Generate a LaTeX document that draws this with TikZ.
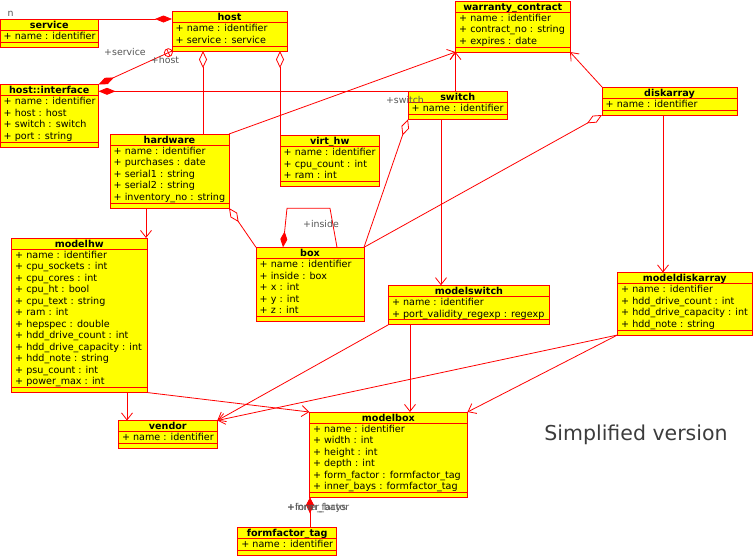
\documentclass[tikz,border=0pt]{standalone}
\usepackage{fontspec}
\setmainfont{DejaVu Sans}
\usetikzlibrary{arrows.meta,calc}
\definecolor{umlred}{RGB}{255,0,0}
\definecolor{umlyellow}{RGB}{255,255,0}
\definecolor{lblgray}{RGB}{85,85,85}
\definecolor{capgray}{RGB}{60,60,60}
\tikzset{
  classbox/.style={draw=umlred, fill=umlyellow, line width=0.95pt, inner sep=0pt, outer sep=0pt, rectangle},
  classline/.style={draw=umlred, line width=0.9pt},
  classtitle/.style={font=\bfseries\fontsize{9.6}{11}\selectfont, anchor=base, inner sep=0pt},
  classattr/.style={font=\fontsize{9.6}{11}\selectfont, anchor=base west, inner sep=0pt},
  conn/.style={draw=umlred, line width=0.8pt},
  openarrow/.style={-{Straight Barb[length=7pt,width=11pt]}},
  compstart/.style={{Diamond[length=17pt,width=7pt]}-},
  compend/.style={-{Diamond[length=17pt,width=7pt]}},
  aggstart/.style={{Diamond[open,length=17pt,width=8pt]}-},
  lbl/.style={text=lblgray, font=\fontsize{9.4}{11}\selectfont, inner sep=0pt},
}
\newcommand\umlclass[7]{%
  \node[classbox, anchor=north west, minimum width={(#4-#2)*1pt}, minimum height={(16.5+11.5*#6)*1pt}] (#1) at (#2,#3) {};
  \node[classtitle] (#1-title) at ({(#2+#4)/2},{#3+9.3}) {#5};
  \draw[classline] (#2,{#3+11}) -- (#4,{#3+11});
  \draw[classline] (#2,{#3+11.5+11.5*#6}) -- (#4,{#3+11.5+11.5*#6});
  \foreach \t [count=\i] in {#7} {\node[classattr] (#1-a\i) at ({#2+3.5},{#3+8.9+11.5*\i}) {\t};}
}
\begin{document}
\begin{tikzpicture}[x=1pt,y=-1pt]
\useasboundingbox (0,0) rectangle (753,555);

\umlclass{service}{0}{19}{98.5}{service}{1}{+ name : identifier}
\umlclass{host}{172}{11.5}{287}{host}{2}{+ name : identifier,+ service : service}
\umlclass{hostif}{0}{84.5}{98.5}{host::interface}{4}{+ name : identifier,+ host : host,+ switch : switch,+ port : string}
\umlclass{hardware}{110}{134}{229}{hardware}{5}{+ name : identifier,+ purchases : date,+ serial1 : string,+ serial2 : string,+ inventory\_no : string}
\umlclass{virthw}{280}{135.5}{379.5}{virt\_hw}{3}{+ name : identifier,+ cpu\_count : int,+ ram : int}
\umlclass{warranty}{455.5}{1}{570}{warranty\_contract}{3}{+ name : identifier,+ contract\_no : string,+ expires : date}
\umlclass{switch}{408}{91.3}{507.5}{switch}{1}{+ name : identifier}
\umlclass{diskarray}{602}{87}{737}{diskarray}{1}{+ name : identifier}
\umlclass{modelhw}{11.5}{238}{147}{modelhw}{12}{+ name : identifier,+ cpu\_sockets : int,+ cpu\_cores : int,+ cpu\_ht : bool,+ cpu\_text : string,+ ram : int,+ hepspec : double,+ hdd\_drive\_count : int,+ hdd\_drive\_capacity : int,+ hdd\_note : string,+ psu\_count : int,+ power\_max : int}
\umlclass{box}{256}{247.3}{364}{box}{5}{+ name : identifier,+ inside : box,+ x : int,+ y : int,+ z : int}
\umlclass{modelswitch}{388.3}{285.3}{549.5}{modelswitch}{2}{+ name : identifier,+ port\_validity\_regexp : regexp}
\umlclass{modeldiskarray}{617.5}{272.5}{752}{modeldiskarray}{4}{+ name : identifier,+ hdd\_drive\_count : int,+ hdd\_drive\_capacity : int,+ hdd\_note : string}
\umlclass{vendor}{118.3}{420.5}{217.3}{vendor}{1}{+ name : identifier}
\umlclass{modelbox}{309.3}{412}{467.5}{modelbox}{6}{+ name : identifier,+ width : int,+ height : int,+ depth : int,+ form\_factor : formfactor\_tag,+ inner\_bays : formfactor\_tag}
\umlclass{formfactor}{237.7}{527}{336.7}{formfactor\_tag}{1}{+ name : identifier}

% service -- host
\draw[conn,compend] (service.north west) -- (service.north west -| host.west);
\node[lbl] (lbl-n) at (10.5,14) {n};

% host::interface -- host
\draw[conn,compstart] (hostif.north east) -- (host.south west);
\coordinate (hc) at ($(host.south west)!4pt!(hostif.north east)$);
\draw[conn] (hc) circle[radius=4pt];
\draw[conn] ($(hc)!4pt!90:(host.south west)$) -- ($(hc)!4pt!-90:(host.south west)$);
\node[lbl] (lbl-service) at (125,52) {+service};
\node[lbl] (lbl-host) at (165,60) {+host};

% host::interface -- switch
\coordinate (hs) at ([yshift=-6.8pt]hostif.north east);
\draw[conn,compstart] (hs) -- (hs -| switch.north west);
\node[lbl] (lbl-switch) at (405,100) {+switch};

% host -- hardware, host -- virt_hw
\coordinate (hh) at ([xshift=31pt]host.south west);
\draw[conn,aggstart] (hh) -- (hh |- hardware.north);
\coordinate (hv) at ([xshift=108pt]host.south west);
\draw[conn,aggstart] (hv) -- (hv |- virthw.north);

% to warranty_contract
\draw[conn,openarrow] (hardware.north east) -- (warranty.south west);
\coordinate (sw) at ([xshift=47.5pt]switch.north west);
\draw[conn,openarrow] (sw) -- (sw |- warranty.south);
\draw[conn,openarrow] (diskarray.north west) -- (warranty.south east);

% aggregations to box
\draw[conn,aggstart] (diskarray.south west) -- (box.north east);
\draw[conn,aggstart] (switch.south west) -- (box.north east);
\draw[conn,aggstart] (hardware.south east) -- (box.north west);

% box self
\draw[conn,{Diamond[length=16pt,width=7pt]}-] ([xshift=27pt]box.north west) -- ++(4,-39) -- ++(43,0) -- ([xshift=81pt]box.north west);
\node[lbl] (lbl-inside) at (321,224) {+inside};

% model links
\coordinate (dm) at ([xshift=61pt]diskarray.south west);
\draw[conn,openarrow] (dm) -- (dm |- modeldiskarray.north);
\coordinate (sm) at ([xshift=33pt]switch.south west);
\draw[conn,openarrow] (sm) -- (sm |- modelswitch.north);
\coordinate (hm) at ([xshift=36pt]hardware.south west);
\draw[conn,openarrow] (hm) -- (hm |- modelhw.north);

% to vendor / modelbox
\coordinate (mv) at ([xshift=115.5pt]modelhw.south west);
\draw[conn,openarrow] (mv) -- (mv |- vendor.north);
\draw[conn,openarrow] (modelhw.south east) -- (modelbox.north west);
\draw[conn,openarrow] (modelswitch.south west) -- (vendor.north east);
\coordinate (mb) at ([xshift=21.7pt]modelswitch.south west);
\draw[conn,openarrow] (mb) -- (mb |- modelbox.north);
\draw[conn,openarrow] (modeldiskarray.south west) -- (vendor.north east);
\draw[conn,openarrow] (modeldiskarray.south west) -- (modelbox.north east);

% formfactor_tag -- modelbox
\coordinate (ff) at ([xshift=72.3pt]formfactor.north west);
\draw[conn,-{Diamond[length=16pt,width=7pt]}] (ff) -- (ff |- modelbox.south);
\draw[conn,-{Diamond[length=15pt,width=8pt]}] (ff) -- (ff |- modelbox.south);
\node[lbl,anchor=west] (lbl-ff) at (287,508) {+form\_factor};
\node[lbl,anchor=west] (lbl-ib) at (287,508) {+inner\_bays};

\node[font=\fontsize{20.5}{24}\selectfont, text=capgray, inner sep=0pt] (caption) at (636,435) {Simplified version};
\end{tikzpicture}
\end{document}
